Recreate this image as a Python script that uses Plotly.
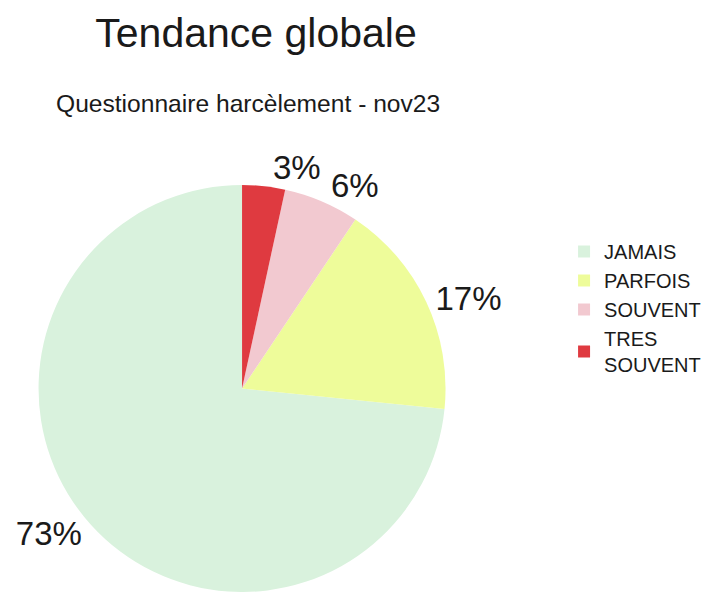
import plotly.graph_objects as go

labels = ["JAMAIS", "PARFOIS", "SOUVENT", "TRES<br>SOUVENT"]
values = [73.4, 17.2, 6.0, 3.4]
colors = ["#d9f2dd", "#eefc9a", "#f2c9d0", "#df3a40"]

title_text = "Tendance globale"
subtitle_text = "Questionnaire harcèlement - nov23"

FONT = "Liberation Sans, Arial, sans-serif"

# Start the smallest slice at 12 o'clock (plotly draws the first slice
# clockwise from the rotation angle when direction is counterclockwise)
rotation = 360.0 * (1 - values[0] / sum(values))

pie_common = dict(
    labels=labels,
    values=values,
    sort=False,
    direction="counterclockwise",
    rotation=rotation,
    textposition="outside",
    textfont=dict(size=33, color="#1a1a1a", family=FONT),
    domain=dict(x=[0.052, 0.626], y=[0.0, 0.6875]),
)

# main pie: labels for all slices except the smallest one
fig = go.Figure(go.Pie(
    **pie_common,
    marker=dict(colors=colors, line=dict(width=0)),
    texttemplate=["%{percent:.0%}", "%{percent:.0%}", "%{percent:.0%}", ""],
    hoverinfo="label+percent",
))
# transparent overlay carrying only the smallest slice label (avoids label scooting)
fig.add_trace(go.Pie(
    **pie_common,
    marker=dict(colors=["rgba(0,0,0,0)"] * len(values), line=dict(width=0)),
    texttemplate=["", "", "", "%{percent:.0%}"],
    hoverinfo="skip",
    showlegend=False,
))

fig.update_layout(
    width=714, height=592,
    margin=dict(l=0, r=0, t=0, b=0, autoexpand=False),
    paper_bgcolor="white",
    plot_bgcolor="white",
    font=dict(family=FONT, color="#1a1a1a"),
    title=dict(
        text=title_text,
        font=dict(size=41, color="#1a1a1a", family=FONT),
        x=256 / 714, xanchor="center",
        y=1 - 33 / 592, yanchor="middle",
        xref="paper", yref="container",
    ),
    annotations=[dict(
        text=subtitle_text,
        x=248 / 714, xanchor="center",
        y=1 - 103 / 592, yanchor="middle",
        xref="paper", yref="paper",
        showarrow=False,
        font=dict(size=24.6, color="#1a1a1a", family=FONT),
    )],
    legend=dict(
        x=0.79, xanchor="left",
        y=1 - 232 / 592, yanchor="top",
        font=dict(size=20, color="#1a1a1a", family=FONT),
        bgcolor="rgba(0,0,0,0)",
        tracegroupgap=0,
    ),
)

fig.write_html("out.html", config={"displayModeBar": False},
               post_script="document.body.style.margin='0';")
